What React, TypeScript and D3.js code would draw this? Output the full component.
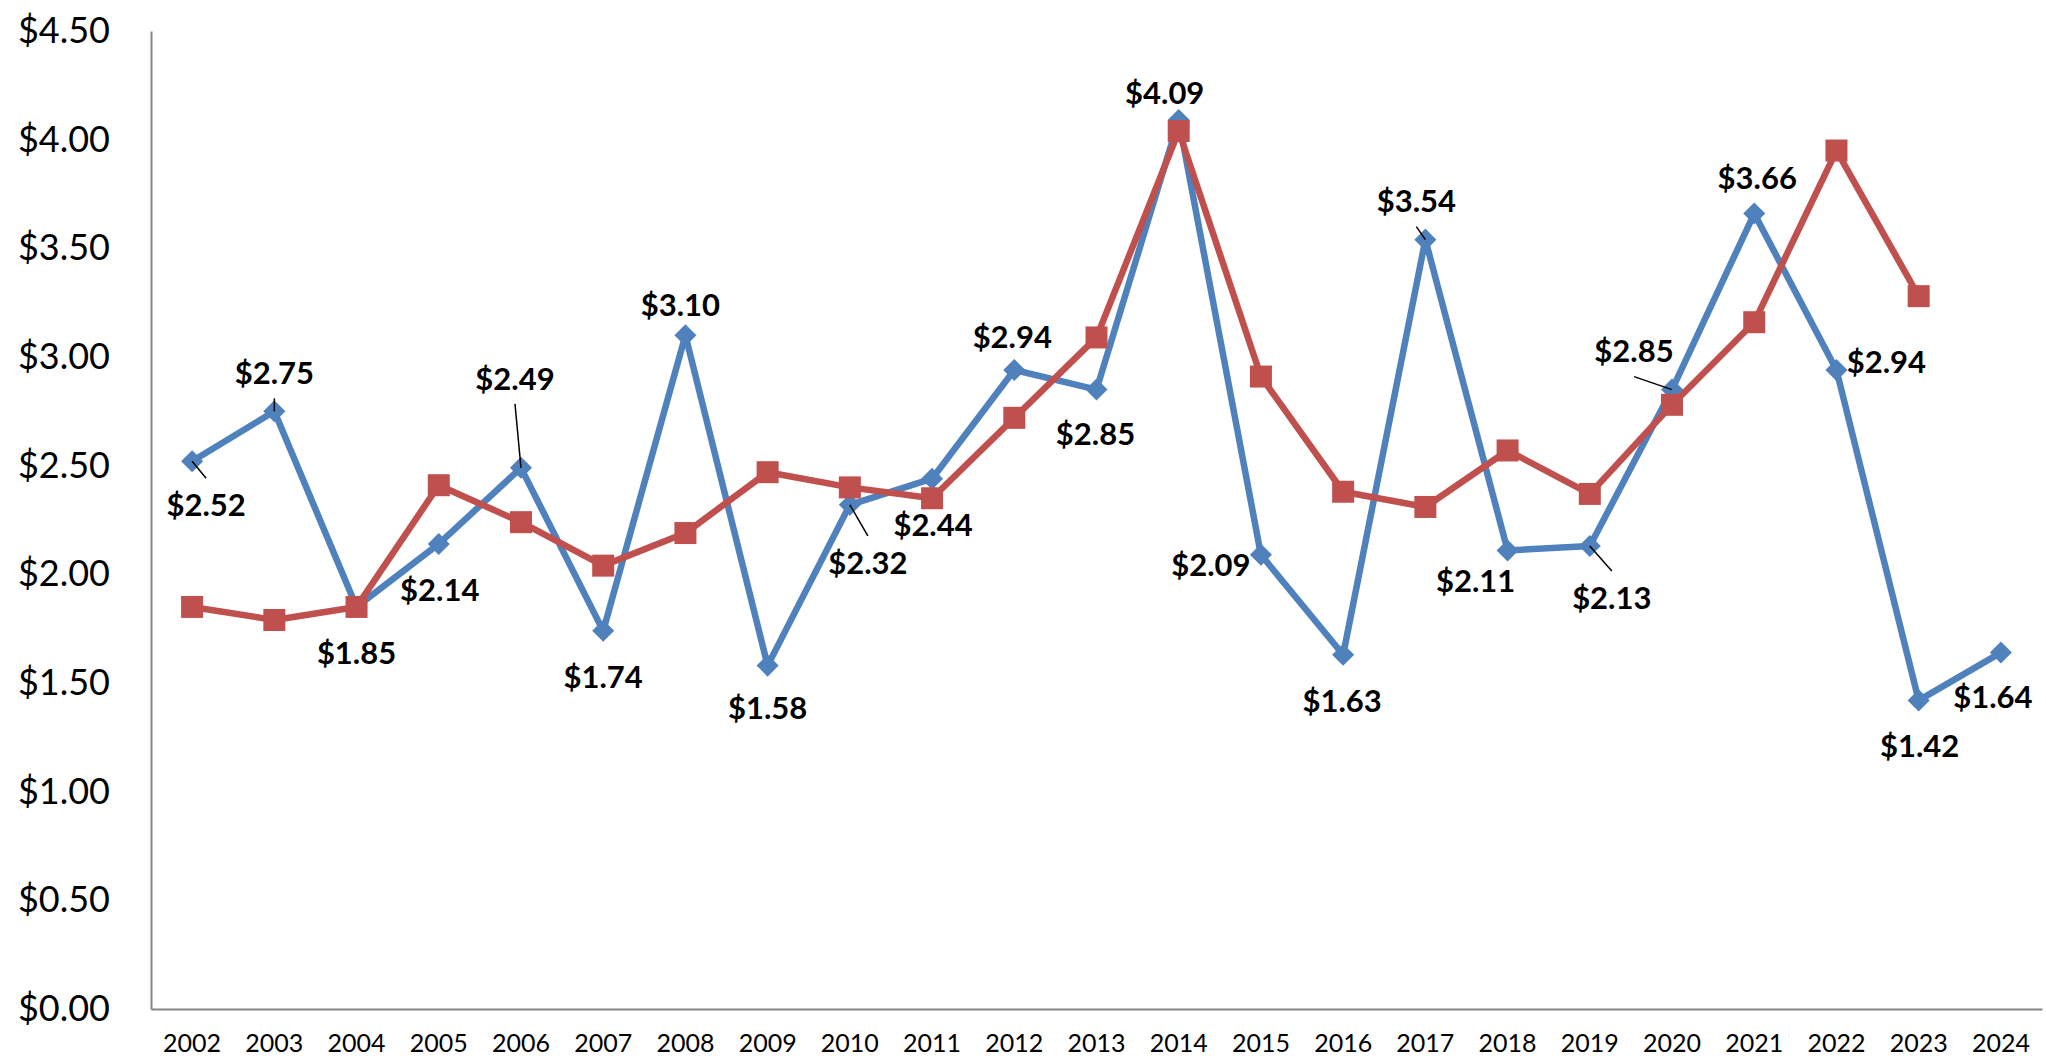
import { useEffect, useRef } from 'react'
import * as d3 from 'd3'

const YEARS=['2002','2003','2004','2005','2006','2007','2008','2009','2010','2011','2012','2013','2014','2015','2016','2017','2018','2019','2020','2021','2022','2023','2024']
const BLUE=[2.52,2.75,1.85,2.14,2.49,1.74,3.10,1.58,2.32,2.44,2.94,2.85,4.09,2.09,1.63,3.54,2.11,2.13,2.85,3.66,2.94,1.42,1.64]
const RED=[1.85,1.79,1.85,2.41,2.24,2.04,2.19,2.47,2.40,2.35,2.72,3.09,4.04,2.91,2.38,2.31,2.57,2.37,2.78,3.16,3.95,3.28]
const Y_TICKS=[0,0.5,1,1.5,2,2.5,3,3.5,4,4.5]
// where each blue label sits relative to its point: dx, dy, leader line
const LABEL_POS=[[14,44,1],[0,-38,1],[0,46,0],[1,46,0],[-6,-89,1],[0,46,0],[-5,-30,0],[0,43,0],[18,58,1],[1,46,0],[-2,-33,0],[-1,45,0],[-14,-27,0],[-50,10,0],[-1,46,0],[-9,-38,1],[-32,31,0],[22,52,1],[-38,-38,1],[3,-35,0],[50,-8,0],[1,46,0],[-8,45,0]]

export default function App() {
  const ref=useRef<SVGSVGElement|null>(null)
  useEffect(() => {
    if(!ref.current) return
    const svg=d3.select(ref.current)
    svg.selectAll('*').remove()
    const x=d3.scaleBand().domain(YEARS).range([151,2042]).padding(0)
    const cx=(i:number)=>(x(YEARS[i]) as number)+x.bandwidth()/2
    const y=d3.scaleLinear().domain([0,4.5]).range([1009,31])
    const font='Lato, "Open Sans", sans-serif'

    const ya=svg.append('g').attr('transform','translate(151,0)')
      .call(d3.axisLeft(y).tickValues(Y_TICKS).tickSize(0).tickSizeOuter(0).tickPadding(41).tickFormat(d=>'$'+(+d).toFixed(2)))
    ya.select('.domain').attr('stroke','#868686').attr('stroke-width',2)
    ya.selectAll('.tick text').style('font-size','36px').style('font-family',font).attr('fill','#000')

    const xa=svg.append('g').attr('transform','translate(0,1009)')
      .call(d3.axisBottom(x).tickSize(0).tickSizeOuter(0))
    xa.select('.domain').attr('stroke','#868686').attr('stroke-width',2)
    xa.selectAll('.tick text').attr('y',43).attr('dy',null).style('font-size','25px').style('font-family',font).attr('fill','#000')

    const line=d3.line<number>().x((_,i)=>cx(i)).y(d=>y(d))
    svg.append('path').attr('d',line(BLUE)).attr('fill','none').attr('stroke','#4F81BD').attr('stroke-width',6.5).attr('stroke-linejoin','round')
    svg.append('g').selectAll('path').data(BLUE).join('path')
      .attr('d',d3.symbol(d3.symbolSquare,243)())
      .attr('transform',(d,i)=>`translate(${cx(i)},${y(d)}) rotate(45)`).attr('fill','#4F81BD')

    svg.append('path').attr('d',line(RED)).attr('fill','none').attr('stroke','#C0504D').attr('stroke-width',6.5).attr('stroke-linejoin','round')
    svg.append('g').selectAll('path').data(RED).join('path')
      .attr('d',d3.symbol(d3.symbolSquare,484)())
      .attr('transform',(d,i)=>`translate(${cx(i)},${y(d)})`).attr('fill','#C0504D')

    // leader lines then labels
    const lg=svg.append('g')
    BLUE.forEach((v,i)=>{
      const [dx,dy,lead]=LABEL_POS[i]
      const px=cx(i), py=y(v), lx=px+dx, ly=py+dy
      if(lead) lg.append('line').attr('x1',px).attr('y1',py).attr('x2',lx).attr('y2',ly+(dy>0?-27:25)).attr('stroke','#000').attr('stroke-width',1.5)
      lg.append('text').attr('x',lx).attr('y',ly).attr('dy','0.35em').attr('text-anchor','middle')
        .style('font-family',font).style('font-weight','bold').style('font-size','31px').text('$'+v.toFixed(2))
    })
  },[])
  return <svg ref={ref} width={2046} height={1058} style={{ position:'absolute',left:0,top:0,background:'#fff' }} />
}
